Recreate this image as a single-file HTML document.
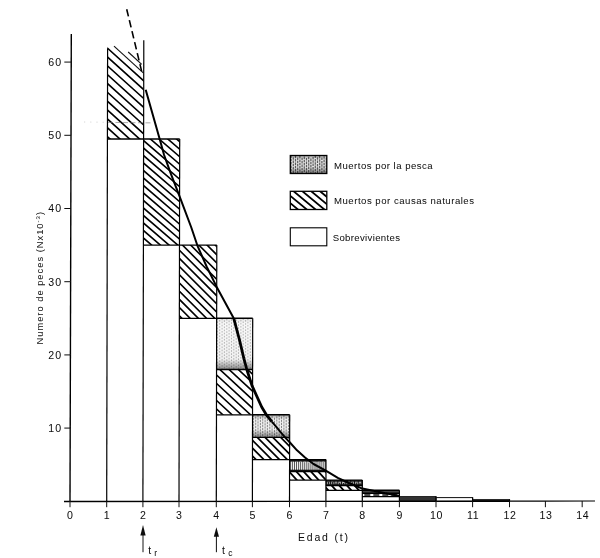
<!DOCTYPE html>
<html lang="es">
<head>
<meta charset="utf-8">
<title>Numero de peces por edad</title>
<style>
html,body{margin:0;padding:0;background:#fff;}
body{width:600px;height:558px;overflow:hidden;font-family:"Liberation Sans",sans-serif;}
svg{display:block;}
</style>
</head>
<body>
<svg width="600" height="558" viewBox="0 0 600 558">
<defs>
<filter id="soft" x="-2%" y="-2%" width="104%" height="104%"><feGaussianBlur stdDeviation="0.3"/></filter>
<linearGradient id="gb" x1="0" y1="0" x2="0" y2="1"><stop offset="0" stop-color="#000" stop-opacity="0.08"/><stop offset="0.1" stop-color="#000" stop-opacity="0"/><stop offset="0.8" stop-color="#000" stop-opacity="0.03"/><stop offset="1" stop-color="#000" stop-opacity="0.45"/></linearGradient>
<linearGradient id="gc" x1="0" y1="0" x2="0" y2="1"><stop offset="0" stop-color="#000" stop-opacity="0.3"/><stop offset="0.2" stop-color="#000" stop-opacity="0"/><stop offset="0.65" stop-color="#000" stop-opacity="0"/><stop offset="1" stop-color="#000" stop-opacity="0.45"/></linearGradient>
<clipPath id="c1"><rect x="107.5" y="46.2" width="36.2" height="92.8"/></clipPath>
<clipPath id="c2"><rect x="143.5" y="139" width="36.1" height="106.1"/></clipPath>
<clipPath id="c3"><rect x="179.4" y="245.1" width="37.3" height="73.2"/></clipPath>
<clipPath id="c4"><rect x="216.5" y="369.5" width="36.1" height="45.2"/></clipPath>
<clipPath id="c5"><rect x="252.5" y="437.4" width="37.1" height="22.2"/></clipPath>
<clipPath id="c6"><rect x="289.5" y="471.5" width="36.4" height="8.6"/></clipPath>
<clipPath id="c7"><rect x="325.9" y="485.6" width="36.4" height="4.8"/></clipPath>
<clipPath id="c8"><rect x="290.3" y="191.3" width="36.5" height="18.2"/></clipPath>
</defs>
<rect width="600" height="558" fill="#fff"/>
<g filter="url(#soft)">
<rect x="216.6" y="318.3" width="36.1" height="51.2" fill="#f8f8f8" stroke="none" stroke-width="1"/>
<path d="M217.4 318.3V369.5M219.7 320V369.5M222.1 318.6V369.5M224.4 320.3V369.5M226.8 318.9V369.5M229.1 320.6V369.5M231.5 319.2V369.5M233.8 320.9V369.5M236.2 319.5V369.5M238.5 321.2V369.5M240.9 319.8V369.5M243.2 318.4V369.5M245.6 320.1V369.5M247.9 318.7V369.5M250.3 320.4V369.5" stroke="#666" stroke-width="0.9" opacity="0.5" fill="none" stroke-dasharray="1.6 1.5"/>
<rect x="216.6" y="318.3" width="36.1" height="51.2" fill="url(#gb)" stroke="none" stroke-width="1"/>
<rect x="252.5" y="414.8" width="37.1" height="22.6" fill="#efefef" stroke="none" stroke-width="1"/>
<path d="M253.3 414.8V437.4M255.7 416.5V437.4M258 415.1V437.4M260.4 416.8V437.4M262.7 415.4V437.4M265.1 417.1V437.4M267.4 415.7V437.4M269.8 417.4V437.4M272.1 416V437.4M274.5 417.7V437.4M276.8 416.3V437.4M279.2 414.9V437.4M281.5 416.6V437.4M283.9 415.2V437.4M286.2 416.9V437.4M288.6 415.5V437.4" stroke="#444" stroke-width="1" opacity="0.6" fill="none" stroke-dasharray="2.2 0.9"/>
<rect x="252.5" y="414.8" width="37.1" height="22.6" fill="url(#gc)" stroke="none" stroke-width="1"/>
<rect x="289.6" y="459.6" width="36.4" height="11.9" fill="#f4f4f4" stroke="none" stroke-width="1"/>
<path d="M290.4 459.6V471.5M292.4 461.3V471.5M294.5 459.9V471.5M296.5 461.6V471.5M298.6 460.2V471.5M300.6 461.9V471.5M302.7 460.5V471.5M304.7 462.2V471.5M306.8 460.8V471.5M308.8 462.5V471.5M310.9 461.1V471.5M312.9 459.7V471.5M315 461.4V471.5M317 460V471.5M319.1 461.7V471.5M321.1 460.3V471.5M323.2 462V471.5M325.2 460.6V471.5" stroke="#000" stroke-width="0.8" opacity="0.8" fill="none"/>
<rect x="289.6" y="459.6" width="36.4" height="2" fill="#111" stroke="none" stroke-width="1"/>
<rect x="289.6" y="469.7" width="36.4" height="1.8" fill="#111" stroke="none" stroke-width="1"/>
<rect x="325.9" y="480.1" width="36.4" height="5.5" fill="#bbb" stroke="none" stroke-width="1"/>
<path d="M326.7 480.1V485.6M328.6 481.8V485.6M330.4 480.4V485.6M332.3 482.1V485.6M334.1 480.7V485.6M336 482.4V485.6M337.8 481V485.6M339.7 482.7V485.6M341.5 481.3V485.6M343.4 483V485.6M345.2 481.6V485.6M347.1 480.2V485.6M348.9 481.9V485.6M350.8 480.5V485.6M352.6 482.2V485.6M354.5 480.8V485.6M356.3 482.5V485.6M358.2 481.1V485.6M360 482.8V485.6M361.9 481.4V485.6" stroke="#000" stroke-width="1.1" opacity="0.9" fill="none"/>
<rect x="325.9" y="480.1" width="36.4" height="1.6" fill="#111" stroke="none" stroke-width="1"/>
<rect x="325.9" y="484.2" width="36.4" height="1.4" fill="#111" stroke="none" stroke-width="1"/>
<rect x="362.3" y="490.3" width="37.1" height="2.9" fill="#444" stroke="none" stroke-width="1"/>
<path clip-path="url(#c1)" d="M106.5 47.3L144.7 81.7M106.5 56.1L144.7 90.5M106.5 65L144.7 99.4M106.5 73.8L144.7 108.2M106.5 82.7L144.7 117.1M106.5 91.5L144.7 125.9M106.5 100.4L144.7 134.8M106.5 109.2L144.7 143.6M106.5 118.1L144.7 152.5M106.5 126.9L144.7 161.3M106.5 135.8L144.7 170.2" stroke="#000" stroke-width="1.6" fill="none"/>
<line x1="114" y1="46.1" x2="143.3" y2="72.8" stroke="#111" stroke-width="1.1"/>
<line x1="128.2" y1="52" x2="141.7" y2="64.4" stroke="#111" stroke-width="1.1"/>
<path clip-path="url(#c2)" d="M142.5 94.7L180.6 127.5M142.5 102.2L180.6 135M142.5 109.7L180.6 142.5M142.5 117.2L180.6 150M142.5 124.7L180.6 157.5M142.5 132.2L180.6 165M142.5 139.7L180.6 172.5M142.5 147.2L180.6 180M142.5 154.7L180.6 187.5M142.5 162.2L180.6 195M142.5 169.7L180.6 202.5M142.5 177.2L180.6 210M142.5 184.7L180.6 217.5M142.5 192.2L180.6 225M142.5 199.7L180.6 232.5M142.5 207.2L180.6 240M142.5 214.7L180.6 247.5M142.5 222.2L180.6 255M142.5 229.7L180.6 262.5M142.5 237.2L180.6 270" stroke="#000" stroke-width="1.6" fill="none"/>
<path clip-path="url(#c3)" d="M178.4 200L217.7 239.3M178.4 208.2L217.7 247.5M178.4 216.4L217.7 255.7M178.4 224.6L217.7 263.9M178.4 232.8L217.7 272.1M178.4 241L217.7 280.3M178.4 249.2L217.7 288.5M178.4 257.4L217.7 296.7M178.4 265.6L217.7 304.9M178.4 273.8L217.7 313.1M178.4 282L217.7 321.3M178.4 290.2L217.7 329.5M178.4 298.4L217.7 337.7M178.4 306.6L217.7 345.9M178.4 314.8L217.7 354.1" stroke="#000" stroke-width="1.6" fill="none"/>
<path clip-path="url(#c4)" d="M215.5 331.5L253.6 366.6M215.5 340L253.6 375.1M215.5 348.5L253.6 383.6M215.5 357L253.6 392.1M215.5 365.5L253.6 400.6M215.5 374L253.6 409.1M215.5 382.5L253.6 417.6M215.5 391L253.6 426.1M215.5 399.5L253.6 434.6M215.5 408L253.6 443.1" stroke="#000" stroke-width="1.6" fill="none"/>
<path clip-path="url(#c5)" d="M251.5 392.6L290.6 431.7M251.5 400.4L290.6 439.5M251.5 408.2L290.6 447.3M251.5 416L290.6 455.1M251.5 423.8L290.6 462.9M251.5 431.6L290.6 470.7M251.5 439.4L290.6 478.5M251.5 447.2L290.6 486.3M251.5 455L290.6 494.1" stroke="#000" stroke-width="1.7" fill="none"/>
<path clip-path="url(#c6)" d="M288.5 414.9L326.9 457.1M288.5 422.9L326.9 465.1M288.5 430.9L326.9 473.1M288.5 438.9L326.9 481.1M288.5 446.9L326.9 489.1M288.5 454.9L326.9 497.1M288.5 462.9L326.9 505.1M288.5 470.9L326.9 513.1M288.5 478.9L326.9 521.1" stroke="#000" stroke-width="1.8" fill="none"/>
<path clip-path="url(#c7)" d="M324.9 436.1L363.3 478.3M324.9 444.5L363.3 486.7M324.9 452.9L363.3 495.1M324.9 461.3L363.3 503.5M324.9 469.7L363.3 511.9M324.9 478.1L363.3 520.3M324.9 486.5L363.3 528.7" stroke="#000" stroke-width="1.8" fill="none"/>
<line x1="364.3" y1="495" x2="398.4" y2="495" stroke="#111" stroke-width="1.6" stroke-dasharray="6 3"/>
<line x1="107.4" y1="139" x2="143.6" y2="139" stroke="#000" stroke-width="1.3"/>
<line x1="143.4" y1="245.1" x2="179.5" y2="245.1" stroke="#000" stroke-width="1.3"/>
<line x1="143.6" y1="139" x2="179.7" y2="139" stroke="#000" stroke-width="1.4"/>
<line x1="179.3" y1="318.3" x2="216.6" y2="318.3" stroke="#000" stroke-width="1.3"/>
<line x1="179.5" y1="245.1" x2="216.8" y2="245.1" stroke="#000" stroke-width="1.4"/>
<line x1="216.5" y1="414.8" x2="252.6" y2="414.8" stroke="#000" stroke-width="1.3"/>
<line x1="216.6" y1="369.5" x2="252.7" y2="369.5" stroke="#000" stroke-width="1.4"/>
<line x1="216.6" y1="318.3" x2="252.7" y2="318.3" stroke="#000" stroke-width="1.4"/>
<line x1="252.5" y1="459.6" x2="289.6" y2="459.6" stroke="#000" stroke-width="1.3"/>
<line x1="252.5" y1="437.4" x2="289.6" y2="437.4" stroke="#000" stroke-width="1.4"/>
<line x1="252.6" y1="414.8" x2="289.7" y2="414.8" stroke="#000" stroke-width="1.4"/>
<line x1="289.5" y1="480.1" x2="325.9" y2="480.1" stroke="#000" stroke-width="1.3"/>
<line x1="289.6" y1="471.5" x2="326" y2="471.5" stroke="#000" stroke-width="1.4"/>
<line x1="289.6" y1="459.6" x2="326" y2="459.6" stroke="#000" stroke-width="1.4"/>
<line x1="325.9" y1="490.3" x2="362.3" y2="490.3" stroke="#000" stroke-width="1.3"/>
<line x1="325.9" y1="485.6" x2="362.3" y2="485.6" stroke="#000" stroke-width="1.4"/>
<line x1="325.9" y1="480.1" x2="362.3" y2="480.1" stroke="#000" stroke-width="1.4"/>
<line x1="362.3" y1="496.7" x2="399.4" y2="496.7" stroke="#000" stroke-width="1.3"/>
<line x1="362.3" y1="493.2" x2="399.4" y2="493.2" stroke="#000" stroke-width="1.4"/>
<line x1="362.3" y1="490.3" x2="399.4" y2="490.3" stroke="#000" stroke-width="1.4"/>
<rect x="399.4" y="496.5" width="36.6" height="4.8" fill="#333" stroke="#111" stroke-width="0.8"/>
<rect x="436" y="497.6" width="36.6" height="3.7" fill="#fff" stroke="#111" stroke-width="1"/>
<rect x="472.6" y="499.3" width="36.9" height="2" fill="#111" stroke="#111" stroke-width="0.6"/>
<line x1="107.6" y1="48.2" x2="106.7" y2="501.3" stroke="#000" stroke-width="1.2"/>
<line x1="143.8" y1="40.2" x2="142.9" y2="501.3" stroke="#000" stroke-width="1.2"/>
<line x1="179.7" y1="139" x2="179" y2="501.3" stroke="#000" stroke-width="1.2"/>
<line x1="216.8" y1="245.1" x2="216.3" y2="501.3" stroke="#000" stroke-width="1.2"/>
<line x1="252.7" y1="318.3" x2="252.4" y2="501.3" stroke="#000" stroke-width="1.2"/>
<line x1="289.7" y1="414.8" x2="289.5" y2="501.3" stroke="#000" stroke-width="1.2"/>
<line x1="326" y1="459.6" x2="325.9" y2="501.3" stroke="#000" stroke-width="1.2"/>
<line x1="362.3" y1="480.1" x2="362.3" y2="501.3" stroke="#000" stroke-width="1.2"/>
<line x1="399.4" y1="490.3" x2="399.4" y2="501.3" stroke="#000" stroke-width="1.2"/>
<line x1="436" y1="496.5" x2="436" y2="501.3" stroke="#000" stroke-width="1.2"/>
<line x1="472.6" y1="497.6" x2="472.6" y2="501.3" stroke="#000" stroke-width="1.2"/>
<line x1="509.5" y1="499.3" x2="509.5" y2="501.3" stroke="#000" stroke-width="1.2"/>
<line x1="71.3" y1="34" x2="70" y2="501.5" stroke="#000" stroke-width="1.4"/>
<line x1="64" y1="501.5" x2="510" y2="501.2" stroke="#000" stroke-width="1.4"/>
<line x1="509" y1="501.2" x2="595" y2="501" stroke="#000" stroke-width="1.2"/>
<line x1="64.3" y1="428.1" x2="71" y2="428.1" stroke="#111" stroke-width="1"/>
<line x1="64.3" y1="354.9" x2="71" y2="354.9" stroke="#111" stroke-width="1"/>
<line x1="64.3" y1="281.7" x2="71" y2="281.7" stroke="#111" stroke-width="1"/>
<line x1="64.3" y1="208.5" x2="71" y2="208.5" stroke="#111" stroke-width="1"/>
<line x1="64.3" y1="135.3" x2="71" y2="135.3" stroke="#111" stroke-width="1"/>
<line x1="64.3" y1="62.1" x2="71" y2="62.1" stroke="#111" stroke-width="1"/>
<line x1="70" y1="501" x2="70" y2="507.2" stroke="#111" stroke-width="1"/>
<line x1="106.7" y1="501" x2="106.7" y2="507.2" stroke="#111" stroke-width="1"/>
<line x1="142.9" y1="501" x2="142.9" y2="507.2" stroke="#111" stroke-width="1"/>
<line x1="179" y1="501" x2="179" y2="507.2" stroke="#111" stroke-width="1"/>
<line x1="216.3" y1="501" x2="216.3" y2="507.2" stroke="#111" stroke-width="1"/>
<line x1="252.4" y1="501" x2="252.4" y2="507.2" stroke="#111" stroke-width="1"/>
<line x1="289.5" y1="501" x2="289.5" y2="507.2" stroke="#111" stroke-width="1"/>
<line x1="325.9" y1="501" x2="325.9" y2="507.2" stroke="#111" stroke-width="1"/>
<line x1="362.3" y1="501" x2="362.3" y2="507.2" stroke="#111" stroke-width="1"/>
<line x1="399.4" y1="501" x2="399.4" y2="507.2" stroke="#111" stroke-width="1"/>
<line x1="436" y1="501" x2="436" y2="507.2" stroke="#111" stroke-width="1"/>
<line x1="472.6" y1="501" x2="472.6" y2="507.2" stroke="#111" stroke-width="1"/>
<line x1="509.5" y1="501" x2="509.5" y2="507.2" stroke="#111" stroke-width="1"/>
<line x1="545.4" y1="501" x2="545.4" y2="507.2" stroke="#111" stroke-width="1"/>
<line x1="582.2" y1="501" x2="582.2" y2="507.2" stroke="#111" stroke-width="1"/>
<polyline points="145.7,89.7 152,112 159.6,138.8 164.1,155 170.9,173.8 179.2,195.3 191.3,227.5 197.3,245.3 206.6,266.5 216.7,286.9 233.7,318.2" fill="none" stroke="#000" stroke-width="2.0" stroke-linejoin="round"/>
<polyline points="233.7,318.2 239.5,340 243.9,358.6 246.8,369.5 252,385.6 261.7,407 266.5,415 271.9,421.7" fill="none" stroke="#000" stroke-width="2.8" stroke-linejoin="round"/>
<polyline points="271.9,421.7 285,437.3 289.7,442.3 297,450.3 305,457.5 313.5,464 325.8,470.6 337.8,477.8 350,483.5 362.4,488.6 380.3,492.2 399.7,496" fill="none" stroke="#000" stroke-width="2.0" stroke-linejoin="round"/>
<line x1="126.7" y1="9.2" x2="141.9" y2="72.3" stroke="#000" stroke-width="1.6" stroke-dasharray="7.4 3.9"/>
<line x1="108" y1="122.4" x2="153" y2="122.9" stroke="#777" stroke-width="0.9" stroke-dasharray="5 2.5" opacity="0.7"/>
<line x1="84" y1="122" x2="108" y2="122.3" stroke="#aaa" stroke-width="0.8" stroke-dasharray="1.2 5" opacity="0.6"/>
<rect x="290.3" y="155.5" width="36.5" height="18" fill="#e2e2e2" stroke="none" stroke-width="1"/>
<path d="M291.1 155.5V173.5M293.3 157.2V173.5M295.5 155.8V173.5M297.7 157.5V173.5M299.9 156.1V173.5M302.1 157.8V173.5M304.3 156.4V173.5M306.5 158.1V173.5M308.7 156.7V173.5M310.9 158.4V173.5M313.1 157V173.5M315.3 155.6V173.5M317.5 157.3V173.5M319.7 155.9V173.5M321.9 157.6V173.5M324.1 156.2V173.5M326.3 157.9V173.5" stroke="#222" stroke-width="1.2" opacity="0.7" fill="none" stroke-dasharray="2.5 0.8"/>
<rect x="290.3" y="155.5" width="36.5" height="18" fill="url(#gc)" stroke="none" stroke-width="1"/>
<rect x="290.3" y="155.5" width="36.5" height="18" fill="none" stroke="#000" stroke-width="1.3"/>
<path clip-path="url(#c8)" d="M289.3 151.2L327.8 183.1M289.3 158.5L327.8 190.4M289.3 165.8L327.8 197.7M289.3 173.1L327.8 205M289.3 180.4L327.8 212.3M289.3 187.7L327.8 219.6M289.3 195L327.8 226.9M289.3 202.3L327.8 234.2" stroke="#000" stroke-width="1.8" fill="none"/>
<rect x="290.3" y="191.3" width="36.5" height="18.2" fill="none" stroke="#000" stroke-width="1.3"/>
<rect x="290.3" y="227.8" width="36.5" height="18" fill="none" stroke="#000" stroke-width="1.1"/>
<line x1="143" y1="534.5" x2="143" y2="552.2" stroke="#111" stroke-width="1"/>
<path d="M143 525L145.6 535.5L140.4 535.5Z" fill="#111"/>
<line x1="216.4" y1="535.8" x2="216.4" y2="552.2" stroke="#111" stroke-width="1"/>
<path d="M216.4 527.2L219 536.8L213.8 536.8Z" fill="#111"/>
<g font-family="'Liberation Sans', sans-serif" fill="#0a0a0a">
<text x="70" y="518.6" font-size="10.6" text-anchor="middle">0</text>
<text x="106.7" y="518.6" font-size="10.6" text-anchor="middle">1</text>
<text x="142.9" y="518.6" font-size="10.6" text-anchor="middle">2</text>
<text x="179" y="518.6" font-size="10.6" text-anchor="middle">3</text>
<text x="216.3" y="518.6" font-size="10.6" text-anchor="middle">4</text>
<text x="252.4" y="518.6" font-size="10.6" text-anchor="middle">5</text>
<text x="289.5" y="518.6" font-size="10.6" text-anchor="middle">6</text>
<text x="325.9" y="518.6" font-size="10.6" text-anchor="middle">7</text>
<text x="362.3" y="518.6" font-size="10.6" text-anchor="middle">8</text>
<text x="399.4" y="518.6" font-size="10.6" text-anchor="middle">9</text>
<text x="436.5" y="518.6" font-size="10.6" text-anchor="middle" letter-spacing="0.6">10</text>
<text x="473.1" y="518.6" font-size="10.6" text-anchor="middle" letter-spacing="0.6">11</text>
<text x="510" y="518.6" font-size="10.6" text-anchor="middle" letter-spacing="0.6">12</text>
<text x="545.9" y="518.6" font-size="10.6" text-anchor="middle" letter-spacing="0.6">13</text>
<text x="582.7" y="518.6" font-size="10.6" text-anchor="middle" letter-spacing="0.6">14</text>
<text x="62.2" y="432" font-size="10.6" text-anchor="end" letter-spacing="1.1">10</text>
<text x="62.2" y="358.8" font-size="10.6" text-anchor="end" letter-spacing="1.1">20</text>
<text x="62.2" y="285.6" font-size="10.6" text-anchor="end" letter-spacing="1.1">30</text>
<text x="62.2" y="212.4" font-size="10.6" text-anchor="end" letter-spacing="1.1">40</text>
<text x="62.2" y="139.2" font-size="10.6" text-anchor="end" letter-spacing="1.1">50</text>
<text x="62.2" y="66" font-size="10.6" text-anchor="end" letter-spacing="1.1">60</text>
<text x="298" y="541.2" font-size="10.5" text-anchor="start" textLength="50" lengthAdjust="spacing">Edad (t)</text>
<text x="334" y="169" font-size="9.6" text-anchor="start" textLength="98.7" lengthAdjust="spacing">Muertos por la pesca</text>
<text x="334" y="203.8" font-size="9.6" text-anchor="start" textLength="140" lengthAdjust="spacing">Muertos por causas naturales</text>
<text x="332.7" y="240.8" font-size="9.6" text-anchor="start" textLength="67.3" lengthAdjust="spacing">Sobrevivientes</text>
<text transform="translate(43.3 344.5) rotate(-90)" font-size="9.3" textLength="132.5" lengthAdjust="spacing">Numero de peces (Nx10<tspan font-size="6" dy="-3.6">-3</tspan><tspan dy="3.6">)</tspan></text>
<text x="148.2" y="553.8" font-size="10.5" text-anchor="start">t</text>
<text x="154.2" y="556" font-size="8.5" text-anchor="start">r</text>
<text x="222" y="553.8" font-size="10.5" text-anchor="start">t</text>
<text x="228.2" y="556.4" font-size="8.5" text-anchor="start">c</text>
</g>
</g>
</svg>
</body>
</html>
